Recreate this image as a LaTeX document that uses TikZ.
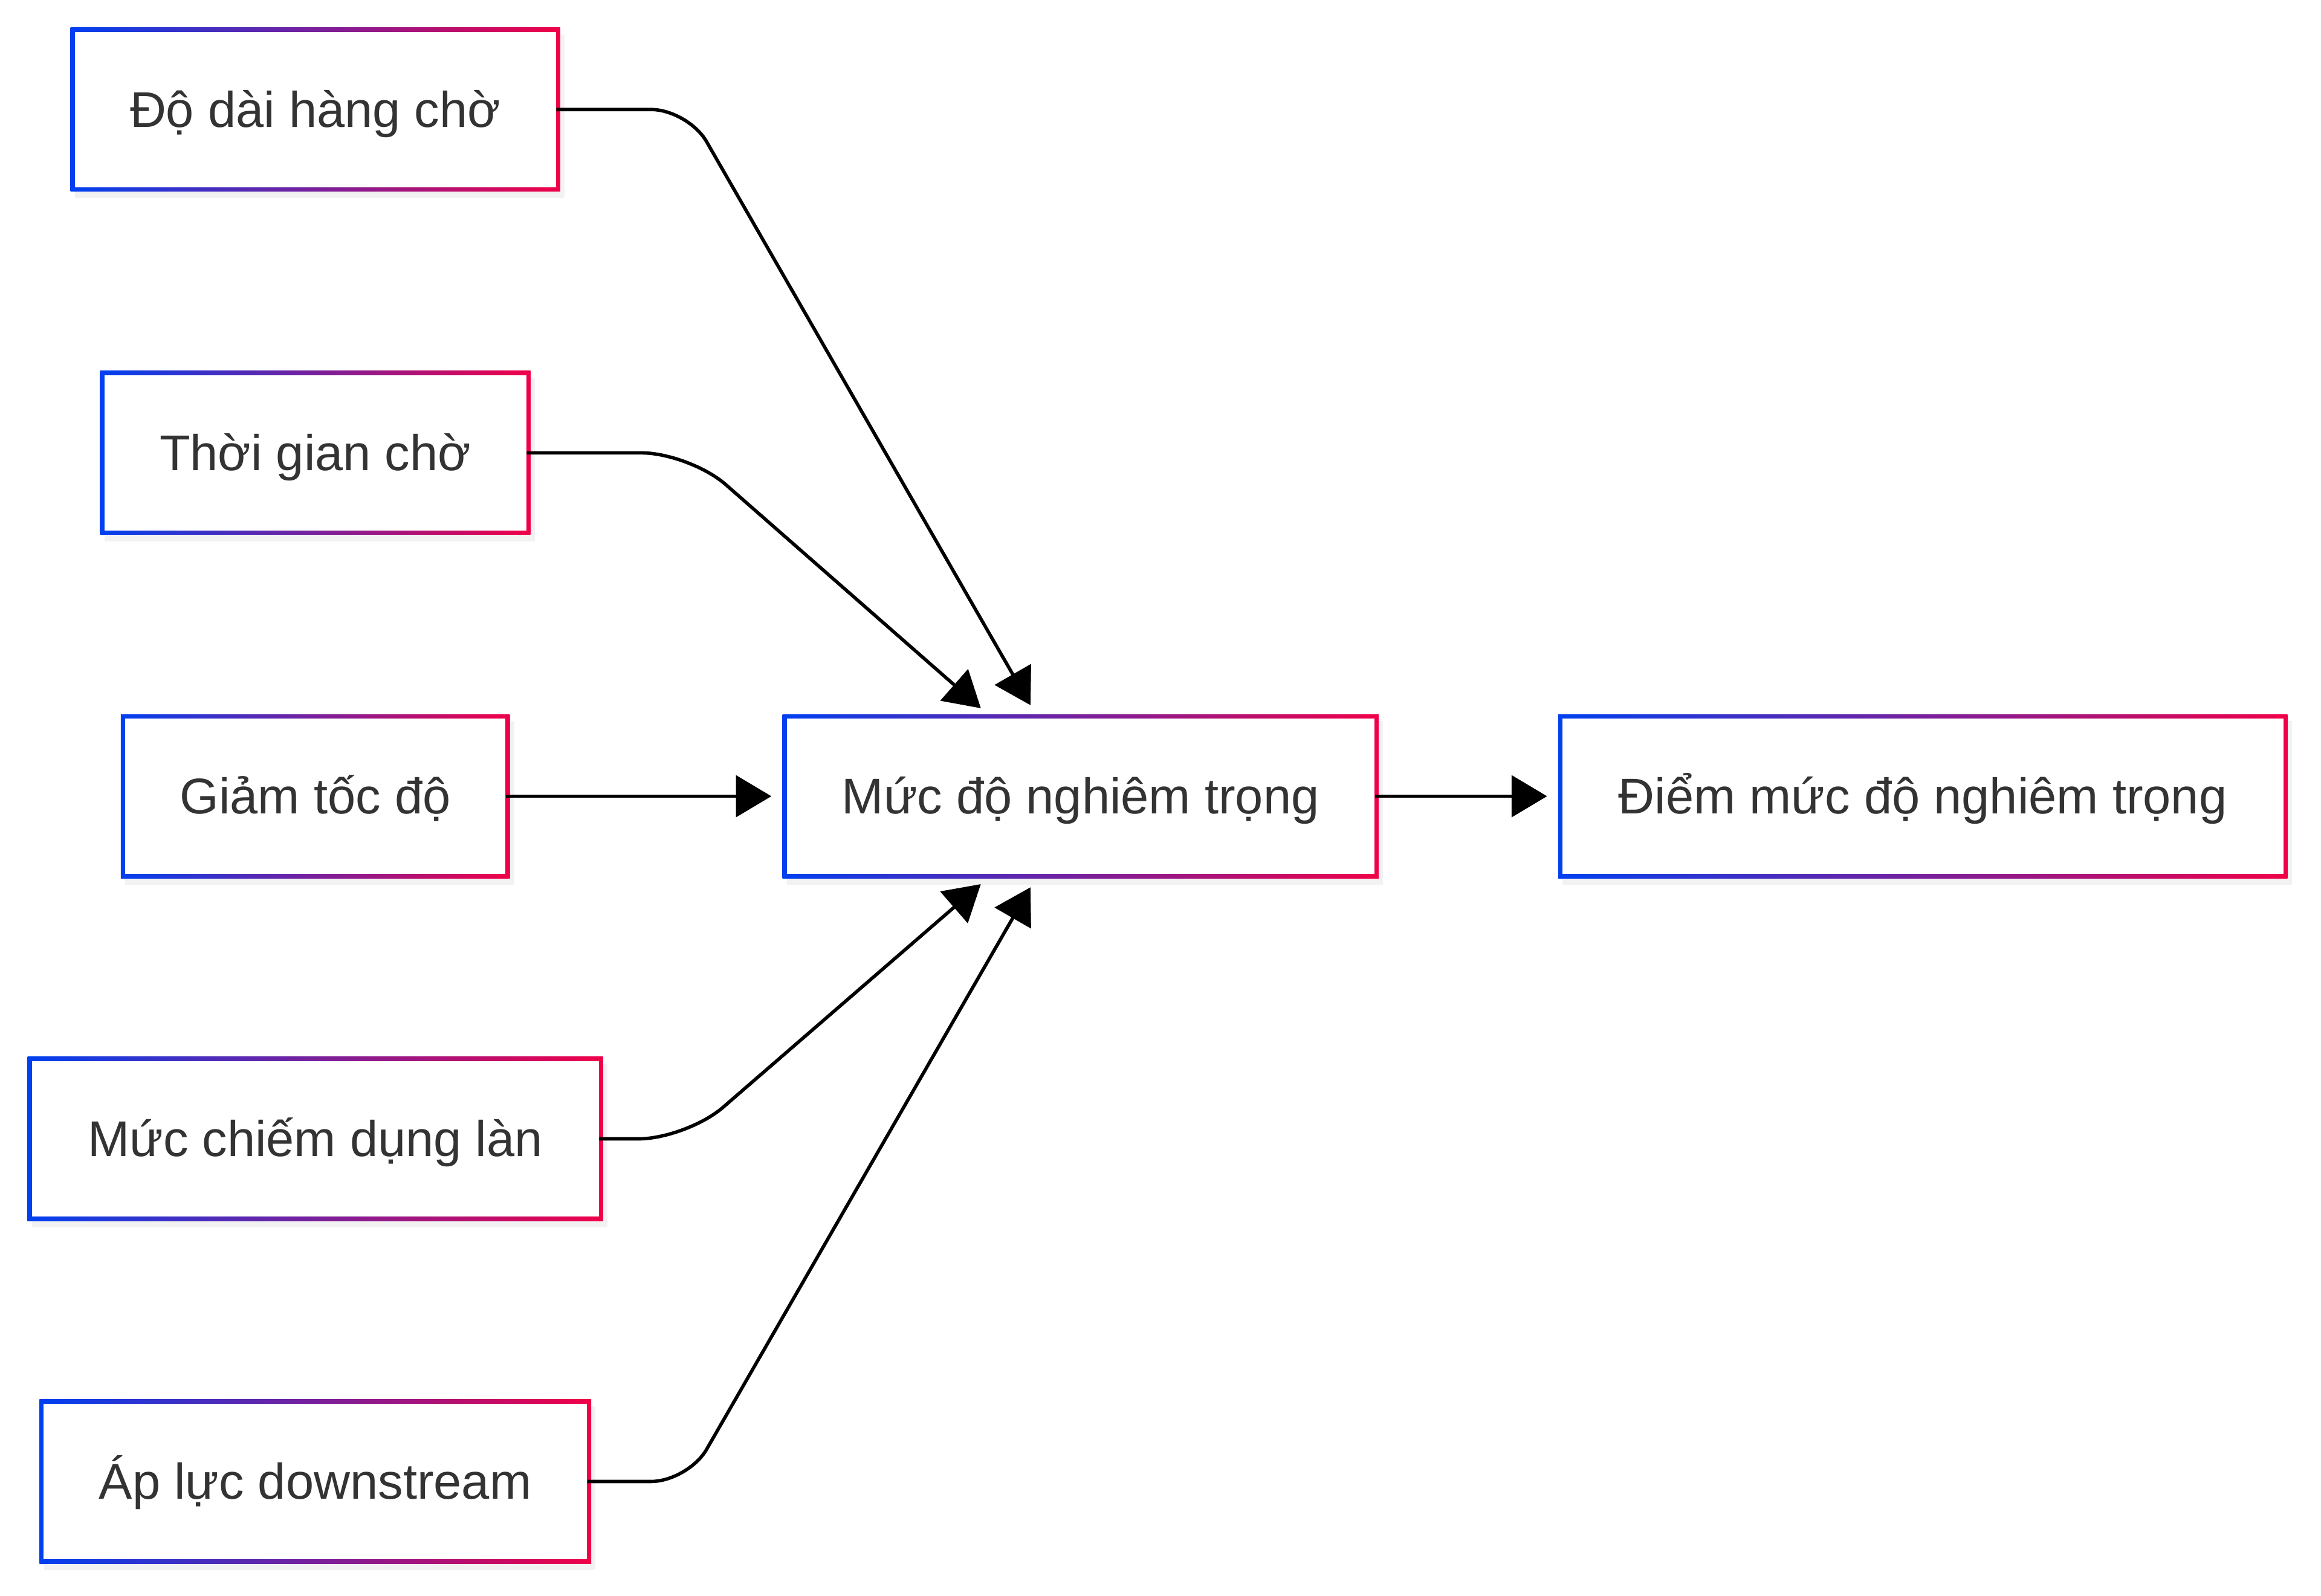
\documentclass[tikz,border=0pt]{standalone}
\usepackage{fontspec}
\setmainfont{Liberation Sans}
\usepackage{tikz}
\usetikzlibrary{arrows.meta,calc,backgrounds,shadows}
\definecolor{rimblue}{RGB}{0,64,240}
\definecolor{rimred}{RGB}{240,0,72}
\definecolor{txtgrey}{RGB}{51,51,51}
\tikzset{
  factor/.style = {rectangle, fill=white, text=txtgrey, minimum height=21mm,
                   inner sep=0pt, text height=17.5pt, text depth=4pt,
                   font=\fontsize{19.3}{23}\selectfont},
  rim/.style    = {left color=rimblue, right color=rimred,
                   drop shadow={opacity=0.10, shadow xshift=0.6mm, shadow yshift=-0.9mm}},
  arr/.style    = {-{Triangle[length=4.8mm, width=5.6mm]}, line width=1.3pt, shorten >=2mm},
}

\begin{document}
\begin{tikzpicture}
\useasboundingbox (0,0) rectangle (31.36,-21.56);

% input factors (left column)
\node[factor, minimum width=65mm] (dhc) at (4.26,-1.48)  {Độ dài hàng chờ};
\node[factor, minimum width=57mm] (tgc) at (4.26,-6.12)  {Thời gian chờ};
\node[factor, minimum width=51.4mm] (gtd) at (4.26,-10.76) {Giảm tốc độ};
\node[factor, minimum width=76.6mm] (mcd) at (4.26,-15.39) {Mức chiếm dụng làn};
\node[factor, minimum width=73.4mm] (alr) at (4.26,-20.02) {Áp lực downstream};

% severity and score
\node[factor, minimum width=79.4mm] (mdn) at (14.6,-10.76)  {Mức độ nghiêm trọng};
\node[factor, minimum width=97.4mm] (dmd) at (25.98,-10.76) {Điểm mức độ nghiêm trọng};

% gradient rims behind the boxes
\begin{scope}[on background layer]
\foreach \n in {dhc,tgc,gtd,mcd,alr,mdn,dmd}
  \shade[rim] ($(\n.south west)+(-0.5mm,-0.5mm)$) rectangle ($(\n.north east)+(0.5mm,0.5mm)$);
\end{scope}

% connectors into Mức độ nghiêm trọng
\draw[arr, rounded corners=5mm] (dhc.east) -- ($(dhc.east)+(1.78,0)$)
   -- ([xshift=34mm]mdn.north west);
\draw[arr, rounded corners=6.5mm] (tgc.east) -- ($(tgc.east)+(2.2,0)$)
   -- ([xshift=27.8mm]mdn.north west);
\draw[arr] (gtd) -- (mdn);
\draw[arr, rounded corners=6.5mm] (mcd.east) -- ($(mcd.east)+(1.18,0)$)
   -- ([xshift=27.8mm]mdn.south west);
\draw[arr, rounded corners=5mm] (alr.east) -- ($(alr.east)+(1.36,0)$)
   -- ([xshift=34mm]mdn.south west);

% score
\draw[arr] (mdn) -- (dmd);

\end{tikzpicture}
\end{document}
